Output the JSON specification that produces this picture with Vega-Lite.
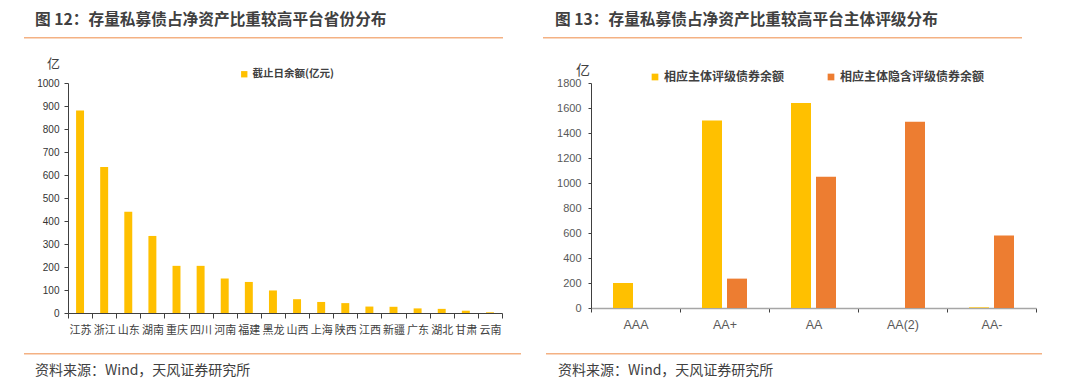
{
  "$schema": "https://vega.github.io/schema/vega-lite/v6.json",
  "background": "white",
  "padding": {"left": 24, "top": 12, "right": 0, "bottom": 0},
  "config": {
    "view": {"stroke": null},
    "font": "Noto Sans CJK SC",
    "axis": {"labelFont": "Noto Sans CJK SC", "titleFont": "Noto Sans CJK SC"},
    "legend": {"labelFont": "Noto Sans CJK SC"},
    "title": {"font": "Noto Sans CJK SC"}
  },
  "spacing": 18,
  "resolve": {"scale": {"color": "independent"}, "legend": {"color": "independent"}},
  "vconcat": [
    {
      "spacing": 40,
      "hconcat": [
        {
          "width": 479,
          "height": 1.5,
          "view": {"fill": "#F4B183", "stroke": null},
          "title": {"text": "图 12：存量私募债占净资产比重较高平台省份分布", "anchor": "start", "dx": 11, "offset": 8, "fontSize": 15.7, "fontWeight": "bold", "color": "#404040"},
          "data": {"values": []},
          "mark": "point",
          "encoding": {}
        },
        {
          "width": 479,
          "height": 1.5,
          "view": {"fill": "#F4B183", "stroke": null},
          "title": {"text": "图 13：存量私募债占净资产比重较高平台主体评级分布", "anchor": "start", "dx": 12, "offset": 8, "fontSize": 15.7, "fontWeight": "bold", "color": "#404040"},
          "data": {"values": []},
          "mark": "point",
          "encoding": {}
        }
      ]
    },
    {
      "spacing": 41,
      "resolve": {"scale": {"color": "independent"}, "legend": {"color": "independent"}},
      "hconcat": [
        {
          "width": 478,
          "height": 230,
          "data": {"values": [
            {"province": "江苏", "series": "截止日余额(亿元)", "value": 880},
            {"province": "浙江", "series": "截止日余额(亿元)", "value": 635},
            {"province": "山东", "series": "截止日余额(亿元)", "value": 440},
            {"province": "湖南", "series": "截止日余额(亿元)", "value": 335},
            {"province": "重庆", "series": "截止日余额(亿元)", "value": 205},
            {"province": "四川", "series": "截止日余额(亿元)", "value": 205},
            {"province": "河南", "series": "截止日余额(亿元)", "value": 150},
            {"province": "福建", "series": "截止日余额(亿元)", "value": 135},
            {"province": "黑龙", "series": "截止日余额(亿元)", "value": 98},
            {"province": "山西", "series": "截止日余额(亿元)", "value": 60},
            {"province": "上海", "series": "截止日余额(亿元)", "value": 48},
            {"province": "陕西", "series": "截止日余额(亿元)", "value": 43},
            {"province": "江西", "series": "截止日余额(亿元)", "value": 28},
            {"province": "新疆", "series": "截止日余额(亿元)", "value": 27},
            {"province": "广东", "series": "截止日余额(亿元)", "value": 20},
            {"province": "湖北", "series": "截止日余额(亿元)", "value": 18},
            {"province": "甘肃", "series": "截止日余额(亿元)", "value": 10},
            {"province": "云南", "series": "截止日余额(亿元)", "value": 3}
          ]},
          "mark": {"type": "bar", "width": {"band": 0.33}},
          "encoding": {
            "x": {"field": "province", "type": "nominal", "sort": null,
              "scale": {"range": [44, 478], "paddingInner": 0, "paddingOuter": 0},
              "axis": {"title": null, "labelAngle": 0, "tickBand": "extent", "labelFontSize": 11, "labelColor": "#404040", "domainColor": "#404040", "tickColor": "#404040", "tickSize": 5, "labelPadding": 6}},
            "y": {"field": "value", "type": "quantitative",
              "scale": {"domain": [0, 1000]},
              "axis": {"values": [0, 100, 200, 300, 400, 500, 600, 700, 800, 900, 1000], "format": "d", "grid": false, "offset": -44, "minExtent": 0,
                "title": "亿", "titleAngle": 0, "titleX": -15, "titleY": -20, "titleAlign": "center", "titleBaseline": "middle", "titleFontSize": 13, "titleFontWeight": "normal", "titleColor": "#404040",
                "labelFont": "Liberation Sans", "labelFontSize": 10, "labelColor": "#333333", "tickSize": 4, "labelPadding": 5, "domainColor": "#404040", "tickColor": "#404040"}},
            "color": {"field": "series", "type": "nominal", "scale": {"range": ["#FFC000"]},
              "legend": {"orient": "none", "legendX": 215, "legendY": -14, "title": null, "symbolType": "square", "symbolSize": 40, "symbolStrokeWidth": 0, "labelOffset": 3, "labelFontSize": 10.5, "labelFontWeight": "bold", "labelColor": "#404040", "padding": 0}}
          }
        },
        {
          "width": 492,
          "height": 225,
          "data": {"values": [
            {"rating": "AAA", "series": "相应主体评级债券余额", "value": 200},
            {"rating": "AAA", "series": "相应主体隐含评级债券余额", "value": 0},
            {"rating": "AA+", "series": "相应主体评级债券余额", "value": 1500},
            {"rating": "AA+", "series": "相应主体隐含评级债券余额", "value": 235},
            {"rating": "AA", "series": "相应主体评级债券余额", "value": 1640},
            {"rating": "AA", "series": "相应主体隐含评级债券余额", "value": 1050},
            {"rating": "AA(2)", "series": "相应主体评级债券余额", "value": 0},
            {"rating": "AA(2)", "series": "相应主体隐含评级债券余额", "value": 1490},
            {"rating": "AA-", "series": "相应主体评级债券余额", "value": 5},
            {"rating": "AA-", "series": "相应主体隐含评级债券余额", "value": 580}
          ]},
          "mark": {"type": "bar"},
          "encoding": {
            "x": {"field": "rating", "type": "nominal", "sort": null,
              "scale": {"range": [47, 492], "paddingInner": 0, "paddingOuter": 0},
              "axis": {"title": null, "labelAngle": 0, "tickBand": "extent", "labelFont": "Liberation Sans", "labelFontSize": 12.5, "labelColor": "#595959", "domainColor": "#A6A6A6", "domainWidth": 1.5, "tickColor": "#404040", "tickSize": 4, "labelPadding": 6}},
            "xOffset": {"field": "series", "type": "nominal", "sort": null, "scale": {"paddingInner": 0.2, "paddingOuter": 0.88}},
            "y": {"field": "value", "type": "quantitative",
              "scale": {"domain": [0, 1800]},
              "axis": {"values": [0, 200, 400, 600, 800, 1000, 1200, 1400, 1600, 1800], "format": "d", "grid": false, "offset": -47, "minExtent": 0,
                "title": "亿", "titleAngle": 0, "titleX": -8.5, "titleY": -13, "titleAlign": "center", "titleBaseline": "middle", "titleFontSize": 14, "titleFontWeight": "normal", "titleColor": "#404040",
                "labelFont": "Liberation Sans", "labelFontSize": 11, "labelColor": "#595959", "tickSize": 3, "labelPadding": 7, "domainColor": "#404040", "tickColor": "#404040"}},
            "color": {"field": "series", "type": "nominal", "sort": null, "scale": {"range": ["#FFC000", "#ED7D31"]},
              "legend": {"orient": "none", "direction": "horizontal", "legendX": 105, "legendY": -12, "title": null, "symbolType": "square", "symbolSize": 45, "symbolStrokeWidth": 0, "labelOffset": 3, "labelFontSize": 12, "labelFontWeight": "bold", "labelColor": "#404040", "columnPadding": 40, "padding": 0}}
          }
        }
      ]
    },
    {
      "spacing": 25,
      "hconcat": [
        {
          "width": 497,
          "height": 1.5,
          "view": {"fill": "#F4B183", "stroke": null},
          "title": {"text": "资料来源：Wind，天风证券研究所", "orient": "bottom", "anchor": "start", "dx": 11, "offset": 9, "fontSize": 14, "fontWeight": "normal", "color": "#404040"},
          "data": {"values": []},
          "mark": "point",
          "encoding": {}
        },
        {
          "width": 496,
          "height": 1.5,
          "view": {"fill": "#F4B183", "stroke": null},
          "title": {"text": "资料来源：Wind，天风证券研究所", "orient": "bottom", "anchor": "start", "dx": 12, "offset": 9, "fontSize": 14, "fontWeight": "normal", "color": "#404040"},
          "data": {"values": []},
          "mark": "point",
          "encoding": {}
        }
      ]
    }
  ]
}
